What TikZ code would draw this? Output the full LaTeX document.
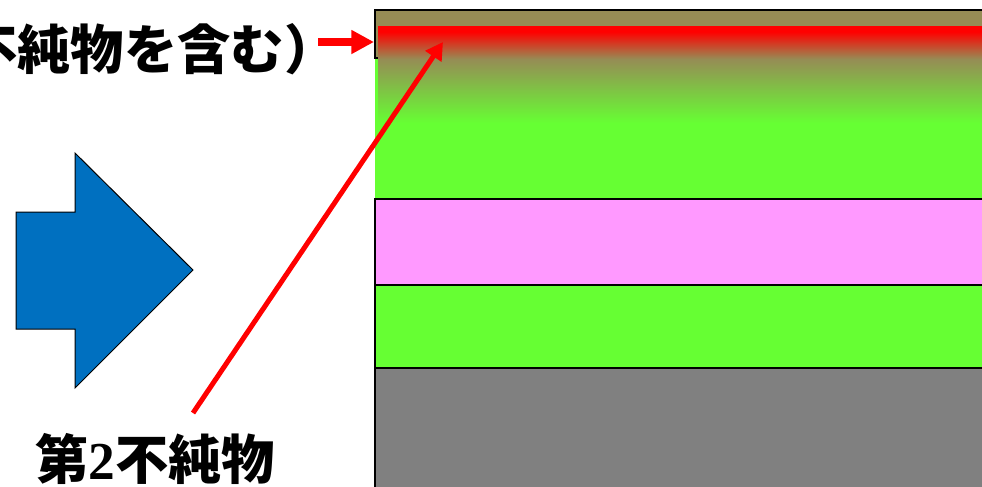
\documentclass[tikz,border=0pt]{standalone}
\usepackage{fontspec}
\usepackage{xcolor}
\usepackage{tikz}
\usetikzlibrary{arrows.meta, positioning}

\newfontfamily\jpfont{Noto Sans CJK JP}
\newfontfamily\numfont{Liberation Serif}

\definecolor{topolive}{RGB}{150,140,85}
\definecolor{laygreen}{RGB}{102,255,51}
\definecolor{laypink}{RGB}{255,153,255}
\definecolor{laygray}{RGB}{128,128,128}
\definecolor{bigblue}{RGB}{0,112,192}

% vùng tạp chất: đỏ ở trên, chuyển dần sang xanh lá
\pgfdeclareverticalshading{impshade}{100bp}{color(0bp)=(laygreen); color(25bp)=(laygreen); color(58bp)=(topolive); color(72bp)=(red); color(100bp)=(red)}

\begin{document}
\begin{tikzpicture}[x=0.75pt, y=-0.75pt,
    lbl/.style={font=\jpfont\bfseries\fontsize{40pt}{40pt}\selectfont, inner sep=0pt},
    redarr/.style={draw=red, line width=6pt, -{Triangle[length=17pt, width=17pt]}},
    redthin/.style={draw=red, line width=3.75pt, -{Triangle[length=13pt, width=14pt]}},
    layer/.style={draw=black, line width=1.5pt}]
    \useasboundingbox (0,0) rectangle (982,486);

    % 1. Các lớp màng (bên phải)
    \fill[topolive] (375,10) rectangle (995,58);
    \fill[laygreen] (375,58) rectangle (995,199);
    \shade[shading=impshade] (378,26) rectangle (995,123);
    \draw[line width=1.5pt] (995,10) -- (375,10) -- (375,58) -- (378,58);
    \draw[layer, fill=laypink] (375,199) rectangle (995,285);
    \draw[layer, fill=laygreen] (375,285) rectangle (995,368);
    \draw[layer, fill=laygray] (375,368) rectangle (995,495);

    % 2. Mũi tên lớn màu xanh
    \draw[fill=bigblue, line width=0.75pt, line join=miter]
        (16,212) -- (75,212) -- (75,153) -- (193,270) -- (75,388) -- (75,329) -- (16,329) -- cycle;

    % 3. Nhãn
    \node[lbl, anchor=base west] (imp1) at (-36,69) {不純物を含む）};
    \node[lbl, anchor=base west] (imp2) at (35,479) {第{\numfont 2}不純物};

    % 4. Mũi tên đỏ
    \coordinate (a1s) at (318,42);
    \coordinate (a1e) at (374,42);
    \coordinate (a2s) at (193,413);
    \coordinate (a2e) at (443,42);
    \draw[redarr] (a1s) -- (a1e);
    \draw[redthin] (a2s) -- (a2e);
\end{tikzpicture}
\end{document}
